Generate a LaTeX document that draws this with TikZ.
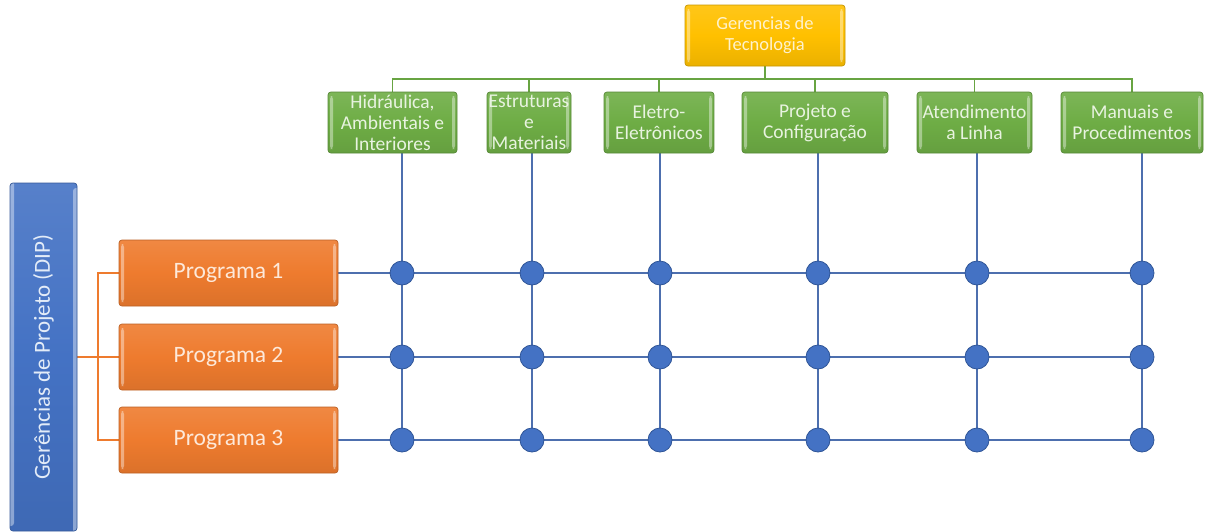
\documentclass[tikz,border=0pt]{standalone}
\usepackage{fontspec}
\setmainfont{Carlito}
\usetikzlibrary{backgrounds}

\definecolor{gold}{HTML}{FFC000}
\definecolor{leaf}{HTML}{6EAD45}
\definecolor{tang}{HTML}{EE7B2E}
\definecolor{azure}{HTML}{4472C4}
\definecolor{goldtxt}{HTML}{FFF2CC}
\definecolor{leaftxt}{HTML}{E8F3E0}
\definecolor{tangtxt}{HTML}{FDE9DA}
\definecolor{azuretxt}{HTML}{E3ECF8}
\definecolor{gridline}{HTML}{4D6FAE}
\definecolor{dotedge}{HTML}{2F5597}

\tikzset{
  bevel/.style={
    rounded corners=3pt, draw=#1!78!black, line width=0.7pt,
    top color=#1!90!white, bottom color=#1!92!black, middle color=#1,
    inner sep=0pt, align=center,
    path picture={
      \fill[white,opacity=0.4]
        ([xshift=2pt,yshift=-4pt]path picture bounding box.north west) rectangle
        ([xshift=5pt,yshift=4pt]path picture bounding box.south west);
      \fill[white,opacity=0.4]
        ([xshift=-5pt,yshift=-4pt]path picture bounding box.north east) rectangle
        ([xshift=-2pt,yshift=4pt]path picture bounding box.south east);
    }
  },
  topbox/.style={bevel=gold, text=goldtxt, font=\fontsize{18.5}{21}\selectfont},
  area/.style={bevel=leaf, text=leaftxt, font=\fontsize{19.5}{21}\selectfont, minimum height=61pt},
  prog/.style={bevel=tang, text=tangtxt, font=\fontsize{23.5}{27}\selectfont, minimum width=219pt, minimum height=66pt},
  dip/.style={bevel=azure, text=azuretxt, font=\fontsize{23}{27}\selectfont},
  dot/.style={circle, fill=azure, draw=dotedge, line width=0.8pt, minimum size=24pt, inner sep=0pt},
  gline/.style={draw=leaf!95!black, line width=1.5pt},
  oline/.style={draw=tang, line width=1.3pt},
  bline/.style={draw=gridline, line width=1.3pt},
}

\begin{document}
\begin{tikzpicture}[x=1pt,y=-1pt]
\useasboundingbox (0,0) rectangle (1205,531);

% top management box
\node[topbox, minimum width=160pt, minimum height=61pt] (ger) at (765,35.5) {Gerencias de\\Tecnologia};

% technology areas
\node[area, minimum width=129pt] (g1) at (392.5,122.5) {Hidráulica,\\Ambientais e\\Interiores};
\node[area, minimum width=84pt]  (g2) at (529,122.5)   {Estruturas\\e\\Materiais};
\node[area, minimum width=110pt] (g3) at (659,122.5)   {Eletro-\\Eletrônicos};
\node[area, minimum width=146pt] (g4) at (815,122.5)   {Projeto e\\Configuração};
\node[area, minimum width=115pt] (g5) at (974.5,122.5) {Atendimento\\a Linha};
\node[area, minimum width=142pt] (g6) at (1132,122.5)  {Manuais e\\Procedimentos};

% project management side
\node[dip, rotate=90, minimum width=348pt, minimum height=67pt] (dip) at (43.5,357) {Gerências de Projeto (DIP)};
\node[prog] (p1) at (228.5,273) {Programa 1};
\node[prog] (p2) at (228.5,357) {Programa 2};
\node[prog] (p3) at (228.5,440) {Programa 3};

% matrix intersections
\foreach \x [count=\k] in {402,532,660,818,977,1142} {
  \foreach \y [count=\r] in {273,357,440} {
    \node[dot] (d\r\k) at (\x,\y) {};
  }
}

\coordinate (bus) at (765,79);
\coordinate (ojoin) at (98,357);

\begin{scope}[on background layer]
  % tree above the areas
  \draw[gline] (ger.south) -- (bus);
  \draw[gline] (g1.north) -- (g1.north |- bus) -- (g6.north |- bus) -- (g6.north);
  \foreach \k in {2,...,5} \draw[gline] (g\k.north) -- (g\k.north |- bus);
  % tree to the programmes
  \draw[oline] (dip.south) -- (ojoin);
  \draw[oline] (p1.west) -- (p1.west -| ojoin) -- (p3.west -| ojoin) -- (p3.west);
  \draw[oline] (ojoin) -- (p2.west);
  % grid
  \foreach \k in {1,...,6} \draw[bline] (d1\k |- g\k.south) -- (d3\k.center);
  \foreach \r in {1,2,3} \draw[bline] (p\r.east) -- (d\r6.center);
\end{scope}
\end{tikzpicture}
\end{document}
